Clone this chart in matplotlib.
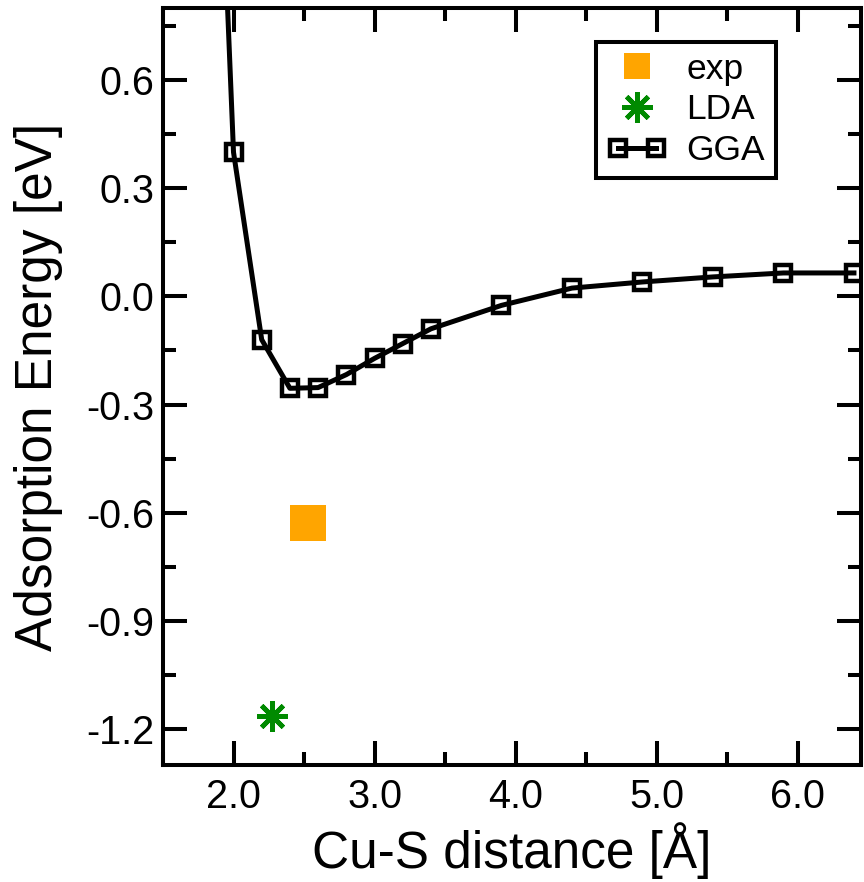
import matplotlib
matplotlib.use("Agg")
import matplotlib.pyplot as plt
from matplotlib.ticker import MultipleLocator, FormatStrFormatter
from matplotlib.legend_handler import HandlerLine2D

plt.rcParams['font.family'] = ['Liberation Sans', 'DejaVu Sans']

# GGA binding curve (Cu-S distance in Angstrom, energy in eV)
gga_dist = [1.9, 2.0, 2.2, 2.4, 2.6, 2.8, 3.0, 3.2, 3.4, 3.9, 4.4, 4.9, 5.4, 5.9, 6.4]
gga_energy = [1.35, 0.40, -0.12, -0.255, -0.253, -0.217, -0.172, -0.131, -0.090,
              -0.025, 0.023, 0.040, 0.054, 0.065, 0.065]

# Reference points
exp_dist = [2.53]
exp_energy = [-0.63]
lda_dist = [2.27]
lda_energy = [-1.163]

fig = plt.figure(figsize=(8.64, 8.82), dpi=100)
ax = fig.add_axes([163 / 864, 1 - 765 / 882, 698 / 864, 757 / 882])

exp_line, = ax.plot(exp_dist, exp_energy, linestyle='none', marker='s', markersize=26,
                    color='#ffa500', markeredgewidth=0, label='exp')
lda_line, = ax.plot(lda_dist, lda_energy, linestyle='none', marker=(8, 2, 0),
                    markersize=22, color='#008a00', markeredgewidth=3.4, label='LDA')
gga_line, = ax.plot(gga_dist, gga_energy, color='black', linewidth=3.6, marker='s',
                    markersize=11, markerfacecolor='none', markeredgecolor='black',
                    markeredgewidth=3.2, label='GGA')

ax.set_xlim(1.5, 6.45)
ax.set_ylim(-1.3, 0.8)

ax.xaxis.set_major_locator(MultipleLocator(1.0))
ax.xaxis.set_minor_locator(MultipleLocator(0.5))
ax.yaxis.set_major_locator(MultipleLocator(0.3))
ax.yaxis.set_minor_locator(MultipleLocator(0.15))
ax.xaxis.set_major_formatter(FormatStrFormatter('%.1f'))
ax.yaxis.set_major_formatter(FormatStrFormatter('%.1f'))

for s in ax.spines.values():
    s.set_linewidth(2.9)

ax.tick_params(which='both', direction='in', top=True, right=True, width=2.9)
ax.tick_params(which='major', length=17, labelsize=28.5)
ax.tick_params(axis='x', which='major', pad=9)
ax.tick_params(axis='y', which='major', pad=6)
ax.tick_params(which='minor', length=9.5)

ax.set_xlabel('Cu-S distance [Å]', fontsize=37, labelpad=5)
ax.set_ylabel('Adsorption Energy [eV]', fontsize=37, labelpad=17)

leg = ax.legend(loc='upper right', bbox_to_anchor=(0.878, 0.955), fontsize=25.5,
                frameon=True, fancybox=False, edgecolor='black', framealpha=1,
                handlelength=1.7, handletextpad=0.55, labelspacing=0.22,
                borderpad=0.3, borderaxespad=0, numpoints=2,
                handler_map={exp_line: HandlerLine2D(numpoints=1),
                             lda_line: HandlerLine2D(numpoints=1)})
leg.get_frame().set_linewidth(2.9)
hs = leg.legend_handles
hs[0].set_markersize(19)
hs[1].set_markersize(22)

fig.savefig('out.png', dpi=100)
